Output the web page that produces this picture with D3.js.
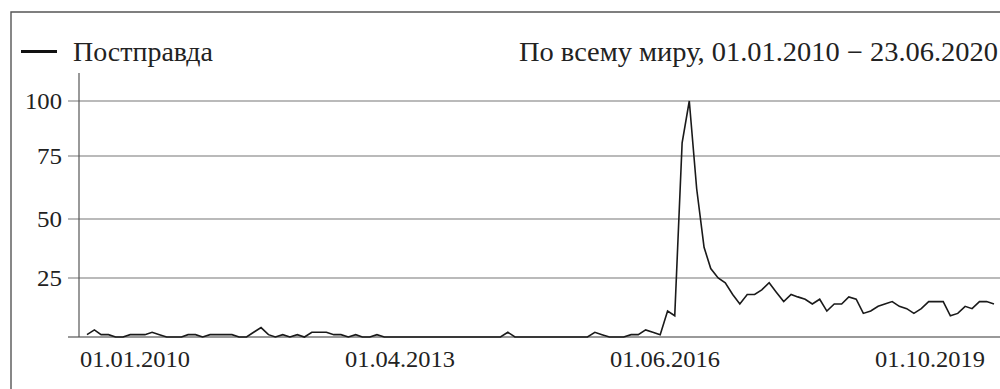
<!DOCTYPE html>
<html>
<head>
<meta charset="utf-8">
<script src="https://cdn.jsdelivr.net/npm/d3@7"></script>
<style>
  svg text { font-family: "Liberation Serif", "DejaVu Serif", serif; }
</style>
</head>
<body style="margin:0;background:#fff">
<svg id="chart" width="1000" height="389"></svg>
<script>
// ---- data ----
const seriesName = "Постправда";
const subtitle = "По всему миру, 01.01.2010 − 23.06.2020";
const startMonth = new Date(2010, 0, 1);
const endMonthExclusive = new Date(2020, 6, 1);
const values = [
  1, 3, 1, 1, 0, 0, 1, 1, 1, 2, 1, 0,      // 2010
  0, 0, 1, 1, 0, 1, 1, 1, 1, 0, 0, 2,      // 2011
  4, 1, 0, 1, 0, 1, 0, 2, 2, 2, 1, 1,      // 2012
  0, 1, 0, 0, 1, 0, 0, 0, 0, 0, 0, 0,      // 2013
  0, 0, 0, 0, 0, 0, 0, 0, 0, 0, 2, 0,      // 2014
  0, 0, 0, 0, 0, 0, 0, 0, 0, 0, 2, 1,      // 2015
  0, 0, 0, 1, 1, 3, 2, 1, 11, 9, 81, 100,  // 2016
  62, 38, 29, 25, 23, 18, 14, 18, 18, 20, 23, 19, // 2017
  15, 18, 17, 16, 14, 16, 11, 14, 14, 17, 16, 10, // 2018
  11, 13, 14, 15, 13, 12, 10, 12, 15, 15, 15, 9,  // 2019
  10, 13, 12, 15, 15, 14                           // 2020
];
const yTicks = [0, 25, 50, 75, 100];
const xTickLabels = ["01.01.2010", "01.04.2013", "01.06.2016", "01.10.2019"];

const months = d3.timeMonth.range(startMonth, endMonthExclusive);
const data = months.map((d, i) => ({ date: d, value: values[i] }));

// ---- layout ----
const svg = d3.select("#chart");
const W = 1000, H = 389;
const FONT_STACK = "'Liberation Serif', 'DejaVu Serif', serif";
const serif = sel => sel.attr("font-family", FONT_STACK).style("font-family", FONT_STACK);

const x = d3.scaleTime().domain(d3.extent(months)).range([87, 994]);
const y = d3.scaleLinear().domain(yTicks).range([337, 278, 219, 156, 101]);
const xLab = d3.scalePoint().domain(xTickLabels).range([135, 930]);

// frame
svg.append("path")
  .attr("d", `M11,${H} L11,12 L${W},12`)
  .attr("fill", "none")
  .attr("stroke", "#555")
  .attr("stroke-width", 1.4);

// grid lines
svg.append("g").selectAll("line").data(yTicks).join("line")
  .attr("x1", 68).attr("x2", W)
  .attr("y1", d => y(d)).attr("y2", d => y(d))
  .attr("stroke", d => d === 0 ? "#777" : "#a3a3a3")
  .attr("stroke-width", 1.5);

// y labels
svg.append("g").selectAll("text").data(yTicks.filter(d => d > 0)).join("text")
  .attr("x", 62).attr("y", d => y(d))
  .attr("dy", "0.34em")
  .attr("text-anchor", "end")
  .call(serif)
  .style("font-size", "23px")
  .attr("textLength", d => String(d).length === 3 ? 37 : 25)
  .attr("lengthAdjust", "spacingAndGlyphs")
  .attr("fill", "#222")
  .text(d => d);

// vertical axis line
svg.append("line")
  .attr("x1", 79).attr("x2", 79)
  .attr("y1", 73).attr("y2", y(0))
  .attr("stroke", "#555")
  .attr("stroke-width", 1.2);

// x labels
svg.append("g").selectAll("text").data(xTickLabels).join("text")
  .attr("x", d => xLab(d)).attr("y", 367)
  .attr("text-anchor", "middle")
  .call(serif)
  .style("font-size", "24px")
  .attr("textLength", 110)
  .attr("lengthAdjust", "spacingAndGlyphs")
  .attr("fill", "#222")
  .text(d => d);

// line
const line = d3.line().x(d => x(d.date)).y(d => y(d.value));
svg.append("path")
  .datum(data)
  .attr("d", line)
  .attr("fill", "none")
  .attr("stroke", "#1a1a1a")
  .attr("stroke-width", 1.6)
  .attr("stroke-linejoin", "miter");

// legend
svg.append("line")
  .attr("x1", 21).attr("x2", 57)
  .attr("y1", 51.5).attr("y2", 51.5)
  .attr("stroke", "#111")
  .attr("stroke-width", 3);

svg.append("text")
  .attr("x", 73).attr("y", 61)
  .call(serif)
  .style("font-size", "27px")
  .attr("textLength", 140)
  .attr("lengthAdjust", "spacingAndGlyphs")
  .attr("fill", "#222")
  .text(seriesName);

svg.append("text")
  .attr("x", 998).attr("y", 61)
  .attr("text-anchor", "end")
  .call(serif)
  .style("font-size", "27px")
  .attr("textLength", 479)
  .attr("lengthAdjust", "spacingAndGlyphs")
  .attr("fill", "#222")
  .text(subtitle);
</script>
</body>
</html>
